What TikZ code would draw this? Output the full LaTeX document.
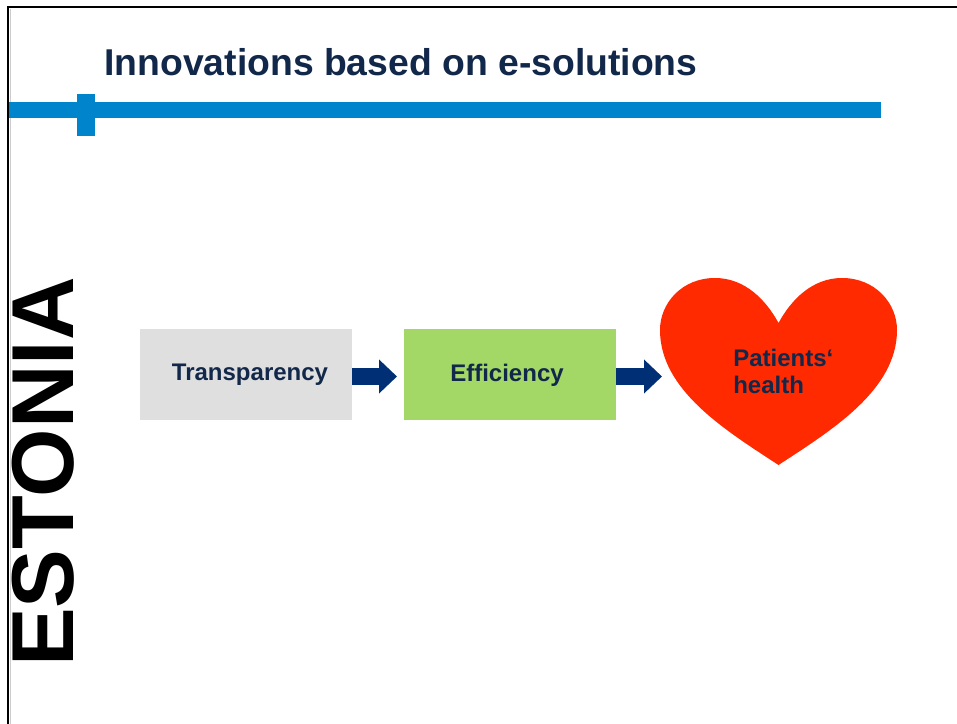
\documentclass[tikz,border=0pt]{standalone}
\usepackage{fontspec}
\setmainfont{Liberation Sans}
\usetikzlibrary{arrows.meta}
\definecolor{navytext}{HTML}{12284A}
\definecolor{barblue}{HTML}{0085CC}
\definecolor{arrowblue}{HTML}{002F76}
\definecolor{boxgray}{HTML}{DFDFDF}
\definecolor{boxgreen}{HTML}{A3D766}
\definecolor{heartred}{HTML}{FF2A00}
\tikzset{
  boxnode/.style={minimum width=159pt,minimum height=68.25pt,inner sep=0pt},
  labelnode/.style={inner sep=0pt,font=\bfseries\fontsize{18}{20}\selectfont,text=navytext},
  blockarrow/.style={draw=arrowblue,line width=12.75pt,-{Triangle[length=13.5pt,width=24.75pt,fill=arrowblue]}},
  frameline/.style={black,line width=1.6pt}
}
\begin{document}
\begin{tikzpicture}[x=.75pt,y=-.75pt]
\useasboundingbox (0,0) rectangle (957,724);
\fill[white] (0,0) rectangle (957,724);
\draw[gray!40,line width=.6pt] (10,9) -- (10,724);
\draw[frameline] (8,724) -- (8,7) -- (957,7);
\fill[barblue] (9,102) rectangle (881,118);
\fill[barblue] (77,94) rectangle (95,136);
\node[anchor=base west,inner sep=0pt,font=\bfseries\fontsize{28}{30}\selectfont,text=navytext] (title) at (104,75) {Innovations based on e-solutions};
\node[anchor=base,rotate=90,inner sep=0pt,font=\bfseries\fontsize{66}{72}\selectfont,text=black] (estonia) at (73,472) {ESTONIA};
\node[boxnode,fill=boxgray] (transparency) at (246,374.5) {};
\node[boxnode,fill=boxgreen] (efficiency) at (510,374.5) {};
\node[labelnode] (transparencylabel) at (250,375) {Transparency};
\node[labelnode] (efficiencylabel) at (507,375) {Efficiency};
\fill[heartred] (778.5,323)
  .. controls (791,300) and (812,278) .. (842,278)
  .. controls (875,278) and (897,303) .. (897,330)
  .. controls (897,390) and (832,430) .. (778.5,465)
  .. controls (725,430) and (660,390) .. (660,330)
  .. controls (660,303) and (682,278) .. (715,278)
  .. controls (745,278) and (766,300) .. (778.5,323) -- cycle;
\coordinate (heartleft) at (662,376.5);
\node[labelnode,anchor=base west] (patients) at (733,366) {Patients‘};
\node[labelnode,anchor=base west] (health) at (733,393) {health};
\coordinate (efficiencyin) at (397,376.5);
\draw[blockarrow] (transparency.east |- efficiencyin) -- (efficiencyin);
\draw[blockarrow] (efficiency.east |- heartleft) -- (heartleft);
\end{tikzpicture}
\end{document}
